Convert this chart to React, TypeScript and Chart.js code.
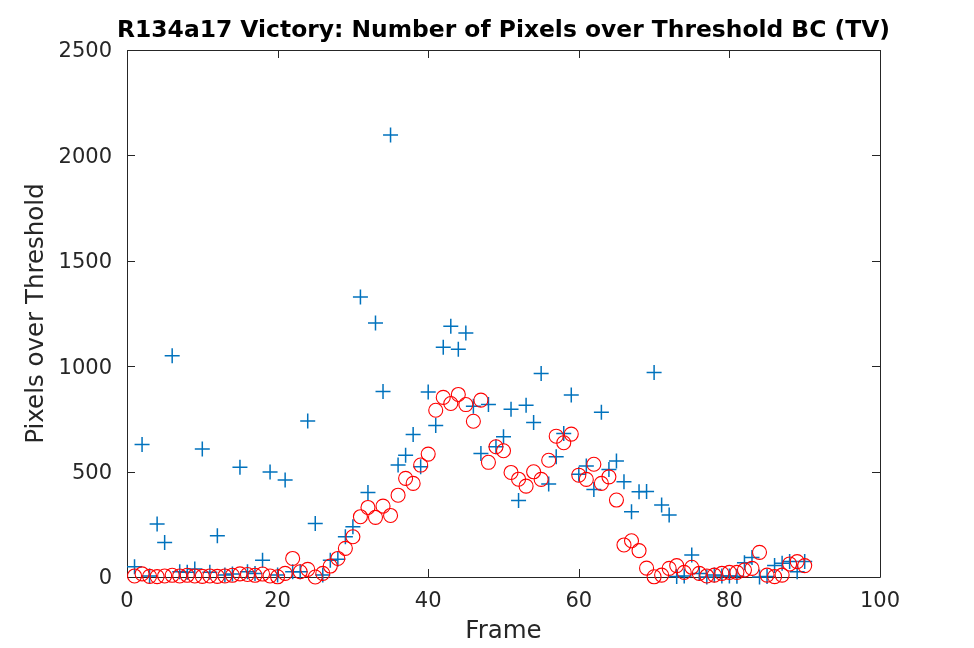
import React, { useEffect, useRef } from 'react';
import { Chart, registerables } from 'chart.js';

Chart.register(...registerables);

const frames = [
  1, 2, 3, 4, 5, 6, 7, 8, 9, 10, 11, 12, 13, 14, 15, 16, 17, 18, 19, 20,
  21, 22, 23, 24, 25, 26, 27, 28, 29, 30, 31, 32, 33, 34, 35, 36, 37, 38, 39, 40,
  41, 42, 43, 44, 45, 46, 47, 48, 49, 50, 51, 52, 53, 54, 55, 56, 57, 58, 59, 60,
  61, 62, 63, 64, 65, 66, 67, 68, 69, 70, 71, 72, 73, 74, 75, 76, 77, 78, 79, 80,
  81, 82, 83, 84, 85, 86, 87, 88, 89, 90,
];

const bluePlus = [
  49, 629, 5, 251, 164, 1050, 25, 22, 38, 607, 22, 196, 9, 14, 521, 25, 17, 79, 498, 9,
  460, 25, 25, 740, 254, 9, 80, 84, 191, 238, 1328, 401, 1205, 880, 2097, 531, 578, 676, 523, 878,
  719, 1090, 1190, 1080, 1158, 810, 586, 818, 618, 665, 796, 363, 815, 733, 965, 441, 570, 681, 863, 488,
  526, 415, 781, 510, 550, 452, 310, 404, 406, 970, 341, 294, 2, 5, 104, 17, 0, 10, 5, 5,
  3, 68, 93, 0, 2, 55, 65, 73, 25, 73,
];

const redCircle = [
  5, 15, 3, 2, 5, 8, 5, 8, 5, 3, 5, 3, 5, 8, 15, 12, 8, 14, 5, 1,
  17, 88, 25, 36, 0, 17, 52, 88, 136, 191, 286, 330, 283, 336, 292, 388, 468, 444, 531, 583,
  791, 852, 823, 866, 818, 739, 839, 544, 618, 599, 496, 464, 431, 499, 463, 554, 668, 637, 678, 483,
  463, 535, 444, 475, 365, 152, 172, 125, 42, 1, 9, 41, 54, 22, 46, 17, 5, 9, 17, 22,
  22, 33, 41, 117, 9, 2, 9, 62, 73, 54,
];

const xTicks = [0, 20, 40, 60, 80, 100];
const yTicks = [0, 500, 1000, 1500, 2000, 2500];

const titleText = 'R134a17 Victory: Number of Pixels over Threshold BC (TV)';
const xLabel = 'Frame';
const yLabel = 'Pixels over Threshold';

const AXIS_COLOR = '#262626';
const FONT = '"DejaVu Sans", sans-serif';

const framePlugin = {
  id: 'matlabFrame',
  beforeDatasetsDraw(chart: any) {
    const { ctx, chartArea } = chart;
    const { left, right, top, bottom } = chartArea;
    const xs = chart.scales.x;
    const ys = chart.scales.y;
    const tl = 8;
    ctx.save();
    ctx.strokeStyle = AXIS_COLOR;
    ctx.lineWidth = 1;
    ctx.beginPath();
    ctx.rect(Math.round(left) + 0.5, Math.round(top) + 0.5, Math.round(right - left), Math.round(bottom - top));
    ctx.stroke();
    ctx.beginPath();
    for (const v of xTicks) {
      const px = Math.round(xs.getPixelForValue(v)) + 0.5;
      ctx.moveTo(px, bottom);
      ctx.lineTo(px, bottom - tl);
      ctx.moveTo(px, top);
      ctx.lineTo(px, top + tl);
    }
    for (const v of yTicks) {
      const py = Math.round(ys.getPixelForValue(v)) + 0.5;
      ctx.moveTo(left, py);
      ctx.lineTo(left + tl, py);
      ctx.moveTo(right, py);
      ctx.lineTo(right - tl, py);
    }
    ctx.stroke();
    ctx.restore();
  },
  afterDraw(chart: any) {
    const { ctx, chartArea } = chart;
    const { left, right, top, bottom } = chartArea;
    ctx.save();
    ctx.fillStyle = '#000000';
    ctx.textAlign = 'center';
    ctx.textBaseline = 'middle';
    ctx.font = 'bold 23.4px ' + FONT;
    ctx.fillText(titleText, (left + right) / 2, 31);
    ctx.fillStyle = AXIS_COLOR;
    ctx.font = '24.5px ' + FONT;
    ctx.fillText(xLabel, (left + right) / 2, 632);
    ctx.translate(37, (top + bottom) / 2);
    ctx.rotate(-Math.PI / 2);
    ctx.fillText(yLabel, 0, 0);
    ctx.restore();
  },
};

export default function App() {
  const canvasRef = useRef<HTMLCanvasElement | null>(null);

  useEffect(() => {
    document.body.style.margin = '0';
    const canvas = canvasRef.current;
    if (!canvas) return;
    const chart = new Chart(canvas, {
      type: 'scatter',
      data: {
        datasets: [
          {
            label: 'Threshold BC',
            data: frames.map((f, i) => ({ x: f, y: bluePlus[i] })),
            pointStyle: 'cross',
            pointRadius: 7.5,
            pointBorderWidth: 1.5,
            borderColor: '#0072BD',
            backgroundColor: '#0072BD',
            clip: false,
            order: 1,
          } as any,
          {
            label: 'TV',
            data: frames.map((f, i) => ({ x: f, y: redCircle[i] })),
            pointStyle: 'circle',
            pointRadius: 7,
            pointBorderWidth: 1.1,
            borderColor: '#FF0000',
            backgroundColor: 'rgba(0,0,0,0)',
            clip: false,
            order: 0,
          } as any,
        ],
      },
      options: {
        animation: false,
        responsive: false,
        maintainAspectRatio: false,
        devicePixelRatio: 1,
        layout: { padding: { top: 50, right: 94, bottom: 0, left: 0 } },
        plugins: {
          legend: { display: false },
          tooltip: { enabled: false },
          title: { display: false },
        },
        scales: {
          x: {
            type: 'linear',
            min: 0,
            max: 100,
            afterBuildTicks: (scale: any) => {
              scale.ticks = xTicks.map((v) => ({ value: v }));
            },
            afterFit: (scale: any) => {
              scale.height = 71;
            },
            grid: { display: false, drawTicks: false },
            border: { display: false },
            ticks: {
              color: AXIS_COLOR,
              font: { family: FONT, size: 21 },
              padding: 12,
              maxRotation: 0,
              callback: (v: any) => String(v),
            },
          },
          y: {
            type: 'linear',
            min: 0,
            max: 2500,
            afterBuildTicks: (scale: any) => {
              scale.ticks = yTicks.map((v) => ({ value: v }));
            },
            afterFit: (scale: any) => {
              scale.width = 127;
            },
            grid: { display: false, drawTicks: false },
            border: { display: false },
            ticks: {
              color: AXIS_COLOR,
              font: { family: FONT, size: 21 },
              padding: 15,
              labelOffset: 2,
              callback: (v: any) => String(v),
            },
          },
        },
      },
      plugins: [framePlugin],
    });
    return () => chart.destroy();
  }, []);

  return (
    <div style={{ position: 'absolute', left: 0, top: 0, width: 974, height: 648, background: '#ffffff' }}>
      <canvas ref={canvasRef} width={974} height={648} style={{ width: 974, height: 648 }} />
    </div>
  );
}
